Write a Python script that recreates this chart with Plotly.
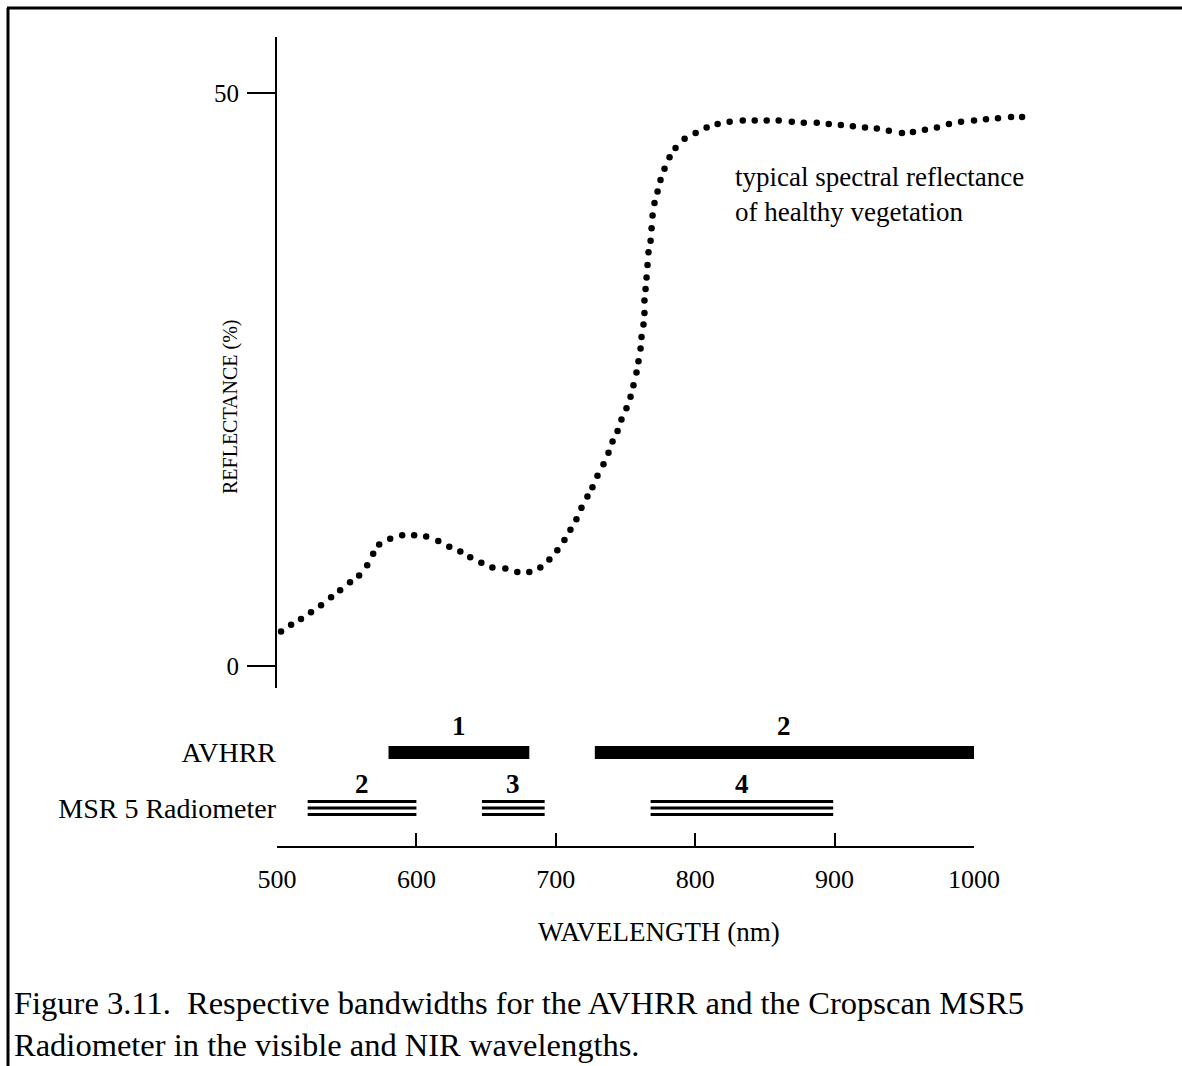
import plotly.graph_objects as go

# ---------------- data ----------------
wavelength_nm = [
    502.9, 510.1, 517.2, 524.4, 531.6, 538.8, 545.3, 552.4, 558.9, 564.7,
    569.0, 573.3, 581.2, 589.8, 598.4, 607.0, 615.7, 623.6, 631.5, 638.6,
    646.6, 654.5, 663.8, 672.4, 681.0, 688.9, 695.4, 701.1, 706.2, 710.5,
    714.8, 718.4, 722.7, 726.3, 729.9, 734.2, 737.8, 740.7, 744.3, 747.1,
    750.7, 753.6, 755.7, 757.9, 759.3, 760.8, 761.5, 762.9, 763.6, 763.6,
    764.4, 765.1, 765.8, 766.5, 768.0, 768.7, 769.4, 770.8, 773.0, 775.1,
    778.0, 781.6, 785.9, 792.4, 800.3, 808.2, 816.1, 824.7, 834.1, 842.7,
    851.3, 859.9, 869.3, 877.9, 887.2, 895.8, 904.5, 913.1, 921.8, 930.3,
    938.9, 948.3, 956.2, 964.8, 973.4, 982.0, 990.7, 1000.0, 1008.6, 1017.2,
    1026.6, 1034.5,
]
reflectance_pct = [
    3.0, 3.6, 4.1, 4.7, 5.3, 6.0, 6.6, 7.3, 7.9, 8.8,
    9.8, 10.6, 11.1, 11.4, 11.4, 11.3, 10.9, 10.4, 10.0, 9.5,
    9.0, 8.6, 8.5, 8.2, 8.2, 8.6, 9.3, 10.1, 11.0, 11.9,
    12.8, 13.8, 14.8, 15.6, 16.6, 17.6, 18.6, 19.6, 20.5, 21.5,
    22.5, 23.5, 24.5, 25.6, 26.6, 27.7, 28.7, 29.8, 30.8, 31.9,
    32.9, 33.9, 35.0, 36.1, 37.1, 38.2, 39.3, 40.4, 41.4, 42.4,
    43.4, 44.4, 45.2, 46.0, 46.5, 47.0, 47.3, 47.5, 47.6, 47.6,
    47.6, 47.6, 47.5, 47.4, 47.4, 47.3, 47.2, 47.1, 47.0, 46.9,
    46.7, 46.5, 46.6, 46.8, 47.0, 47.3, 47.5, 47.6, 47.7, 47.8,
    47.9, 47.9,
]

instrument_names = ["AVHRR", "MSR 5 Radiometer"]

avhrr_band_labels = ["1", "2"]
avhrr_band_start = [580, 728]
avhrr_band_end = [681, 1000]

msr_band_labels = ["2", "3", "4"]
msr_band_start = [522, 647, 768]
msr_band_end = [600, 692, 899]

x_tick_values = [500, 600, 700, 800, 900, 1000]
y_tick_values = [0, 50]

curve_note = "typical spectral reflectance<br>of healthy vegetation"
x_title = "WAVELENGTH (nm)"
y_title = "REFLECTANCE (%)"
caption = ("Figure 3.11.  Respective bandwidths for the AVHRR and the Cropscan MSR5<br>"
           "Radiometer in the visible and NIR wavelengths.")

# ---------------- layout geometry (pixels) ----------------
W, H = 1182, 1066
FONT = "Liberation Serif"


def fx(px):
    return px / W


def fy(py):
    return 1 - py / H


X0, X1000 = 277, 974          # pixel of 500 nm and 1000 nm
SX = (X1000 - X0) / 500.0     # px per nm
Y0, Y50 = 666, 93             # pixel of 0 % and 50 %
SY = (Y0 - Y50) / 50.0        # px per %
MAIN_TOP, MAIN_BOT = 37, 688
MAIN_RIGHT = 1080
BAND_TOP, BAND_BOT = 700, 846  # band panel; x axis line at BAND_BOT

ROW_Y = {"AVHRR": BAND_BOT - 752.5, "MSR 5 Radiometer": BAND_BOT - 808}
LABEL_DY = {"AVHRR": 27, "MSR 5 Radiometer": 24}
AVHRR_WIDTH = 13
MSR_GAP = 6.5
MSR_WIDTH = 3

fig = go.Figure()

# reflectance curve (dots)
fig.add_trace(go.Scatter(
    x=wavelength_nm, y=reflectance_pct, mode="markers",
    marker=dict(color="black", size=6.5),
    xaxis="x", yaxis="y", hoverinfo="x+y",
))

# AVHRR bands (thick solid bars)
r_av = ROW_Y["AVHRR"]
for s, e in zip(avhrr_band_start, avhrr_band_end):
    fig.add_trace(go.Scatter(
        x=[s, e], y=[r_av, r_av], mode="lines",
        line=dict(color="black", width=AVHRR_WIDTH),
        xaxis="x2", yaxis="y2", hoverinfo="x",
    ))

# MSR5 bands (triple thin lines)
r_ms = ROW_Y["MSR 5 Radiometer"]
for s, e in zip(msr_band_start, msr_band_end):
    xs, ys = [], []
    for d in (MSR_GAP, 0, -MSR_GAP):
        xs += [s, e, None]
        ys += [r_ms + d, r_ms + d, None]
    fig.add_trace(go.Scatter(
        x=xs, y=ys, mode="lines",
        line=dict(color="black", width=MSR_WIDTH),
        xaxis="x2", yaxis="y2", hoverinfo="x",
    ))

annotations = []
for lab, s, e in zip(avhrr_band_labels, avhrr_band_start, avhrr_band_end):
    annotations.append(dict(
        x=(s + e) / 2, y=r_av + LABEL_DY["AVHRR"], xref="x2", yref="y2",
        xanchor="center", yanchor="middle",
        text="<b>%s</b>" % lab, showarrow=False,
        font=dict(family=FONT, size=27, color="black"),
    ))
for lab, s, e in zip(msr_band_labels, msr_band_start, msr_band_end):
    annotations.append(dict(
        x=(s + e) / 2, y=r_ms + LABEL_DY["MSR 5 Radiometer"], xref="x2", yref="y2",
        xanchor="center", yanchor="middle",
        text="<b>%s</b>" % lab, showarrow=False,
        font=dict(family=FONT, size=27, color="black"),
    ))

annotations += [
    dict(x=fx(230), y=fy(407), xref="paper", yref="paper", text=y_title,
         xanchor="center", yanchor="middle",
         textangle=-90, showarrow=False,
         font=dict(family=FONT, size=20, color="black")),
    dict(x=fx(659), y=fy(932), xref="paper", yref="paper", text=x_title,
         xanchor="center", yanchor="middle",
         showarrow=False, font=dict(family=FONT, size=27, color="black")),
    dict(x=fx(733), y=fy(194.5), xref="paper", yref="paper", text=curve_note,
         xanchor="left", yanchor="middle", align="left", showarrow=False,
         font=dict(family=FONT, size=27, color="black")),
    dict(x=fx(12), y=fy(1024), xref="paper", yref="paper", text=caption,
         xanchor="left", yanchor="middle", align="left", showarrow=False,
         font=dict(family=FONT, size=32.5, color="black")),
]

shapes = [
    dict(type="line", xref="paper", yref="paper", x0=fx(7), x1=1.0,
         y0=fy(8), y1=fy(8), line=dict(color="black", width=3)),
    dict(type="line", xref="paper", yref="paper", x0=fx(8), x1=fx(8),
         y0=fy(8), y1=0.0, line=dict(color="black", width=3)),
]

fig.update_layout(
    width=W, height=H,
    autosize=False,
    margin=dict(l=0, r=0, t=0, b=0, pad=0, autoexpand=False),
    paper_bgcolor="white", plot_bgcolor="white",
    showlegend=False,
    font=dict(family=FONT, color="black"),
    xaxis=dict(
        domain=[fx(X0), fx(MAIN_RIGHT)],
        range=[500, 500 + (MAIN_RIGHT - X0) / SX],
        visible=False, anchor="y", automargin=False,
    ),
    yaxis=dict(
        domain=[fy(MAIN_BOT), fy(MAIN_TOP)],
        range=[(Y0 - MAIN_BOT) / SY, (Y0 - MAIN_TOP) / SY],
        anchor="x", automargin=False,
        showline=True, linecolor="black", linewidth=2,
        ticks="outside", ticklen=28, tickwidth=2, tickcolor="black",
        tickvals=y_tick_values, tickfont=dict(family=FONT, size=25, color="black"),
        ticklabelstandoff=3,
        showgrid=False, zeroline=False,
    ),
    xaxis2=dict(
        domain=[fx(X0), fx(X1000)],
        range=[500, 1000], anchor="y2", automargin=False,
        showline=True, linecolor="black", linewidth=2,
        ticks="inside", ticklen=13, tickwidth=2, tickcolor="black",
        tickvals=x_tick_values, tickfont=dict(family=FONT, size=26, color="black"),
        ticklabelstandoff=9,
        showgrid=False, zeroline=False,
    ),
    yaxis2=dict(
        domain=[fy(BAND_BOT), fy(BAND_TOP)],
        range=[0, BAND_BOT - BAND_TOP], anchor="x2", automargin=False,
        showline=False, ticks="", showgrid=False, zeroline=False,
        tickvals=[ROW_Y[n] for n in instrument_names], ticktext=instrument_names,
        tickfont=dict(family=FONT, size=28, color="black"),
        ticklabelstandoff=0,
    ),
    annotations=annotations,
    shapes=shapes,
)

fig.write_html("out.html")
